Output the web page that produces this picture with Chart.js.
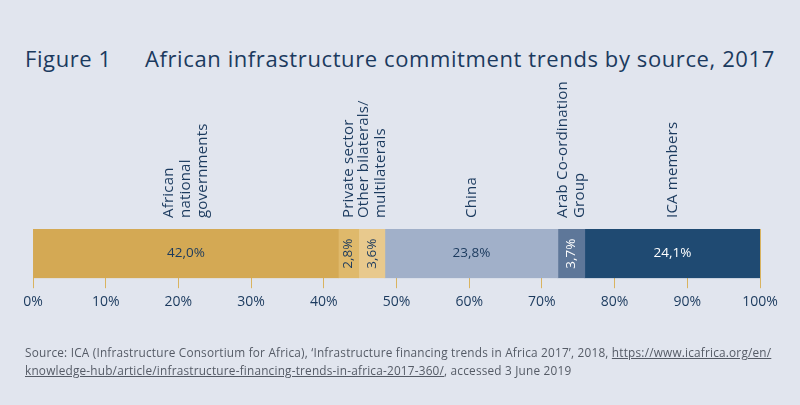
<!DOCTYPE html>
<html>
<head>
<meta charset="utf-8">
<script src="https://cdn.jsdelivr.net/npm/chart.js@4/dist/chart.umd.min.js"></script>
<style>
  html, body { margin: 0; padding: 0; }
  body { width: 800px; height: 405px; background: #e1e5ee; position: relative; overflow: hidden; font-family: 'Open Sans', sans-serif; }
  #title { position: absolute; left: 25px; top: 43px; font-size: 22px; letter-spacing: 0.6px; color: #1b3a5e; white-space: nowrap; }
  #title .fig { display: inline-block; width: 120px; }
  #chart { position: absolute; left: 0; top: 0; }
  #source { position: absolute; left: 25px; top: 343px; width: 770px; font-size: 11.8px; letter-spacing: 0.2px; line-height: 18px; color: #555b66; white-space: nowrap; }
  #source u { color: #555b66; }
</style>
</head>
<body>
<div id="title"><span class="fig">Figure 1</span>African infrastructure commitment trends by source, 2017</div>
<canvas id="chart" width="800" height="405"></canvas>
<div id="source">Source: ICA (Infrastructure Consortium for Africa), ‘Infrastructure financing trends in Africa 2017’, 2018, <u>https://www.icafrica.org/en/<br>knowledge-hub/article/infrastructure-financing-trends-in-africa-2017-360/</u>, accessed 3 June 2019</div>
<script>
const sources = [
  ['African', 'national', 'governments'],
  ['Private sector'],
  ['Other bilaterals/', 'multilaterals'],
  ['China'],
  ['Arab Co-ordination', 'Group'],
  ['ICA members']
];
const shares = [42.0, 2.8, 3.6, 23.8, 3.7, 24.1];
const shareLabels = ['42,0%', '2,8%', '3,6%', '23,8%', '3,7%', '24,1%'];
const colors = ['#d4a954', '#dfb96b', '#e8c98d', '#a1b0c9', '#5e7799', '#1f4a72'];
const labelColors = ['#1b3a5e', '#1b3a5e', '#1b3a5e', '#1b3a5e', '#ffffff', '#ffffff'];
const xTicks = [0, 10, 20, 30, 40, 50, 60, 70, 80, 90, 100];

const navy = '#1b3a5e';
const font = "'Open Sans', sans-serif";

// segment values and source names drawn on and above the bar
const barTextPlugin = {
  id: 'barText',
  afterDatasetsDraw(chart) {
    const { ctx } = chart;
    chart.data.datasets.forEach((ds, i) => {
      const bar = chart.getDatasetMeta(i).data[0];
      const cx = (bar.x + bar.base) / 2;
      const w = Math.abs(bar.x - bar.base);

      ctx.save();
      ctx.fillStyle = labelColors[i];
      ctx.font = '13.5px ' + font;
      ctx.textAlign = 'center';
      ctx.textBaseline = 'middle';
      if (w > 40) {
        ctx.fillText(shareLabels[i], cx, bar.y);
      } else {
        ctx.translate(cx, bar.y);
        ctx.rotate(-Math.PI / 2);
        ctx.fillText(shareLabels[i], 0, 0);
      }
      ctx.restore();

      const lines = sources[i];
      const top = chart.chartArea.top;
      ctx.save();
      ctx.fillStyle = navy;
      ctx.font = '15px ' + font;
      ctx.letterSpacing = '0.2px';
      ctx.textAlign = 'left';
      ctx.textBaseline = 'middle';
      ctx.translate(cx, top - 11);
      ctx.rotate(-Math.PI / 2);
      lines.forEach((line, k) => {
        ctx.fillText(line, 0, (k - (lines.length - 1) / 2) * 17);
      });
      ctx.restore();
    });
  }
};

new Chart(document.getElementById('chart'), {
  type: 'bar',
  data: {
    labels: ['2017'],
    datasets: shares.map((v, i) => ({
      label: sources[i].join(' '),
      data: [v],
      backgroundColor: colors[i],
      borderWidth: 0,
      barPercentage: 1,
      categoryPercentage: 1
    }))
  },
  options: {
    indexAxis: 'y',
    responsive: false,
    animation: false,
    layout: { padding: { left: 33, right: 40, top: 229, bottom: 90 } },
    plugins: {
      legend: { display: false },
      tooltip: { enabled: false }
    },
    scales: {
      x: {
        stacked: true,
        min: 0,
        max: 100,
        afterBuildTicks: (axis) => { axis.ticks = xTicks.map(v => ({ value: v })); },
        grid: { color: '#d9b35f', lineWidth: 1, tickLength: 10, drawOnChartArea: true },
        border: { display: false },
        ticks: {
          color: navy,
          font: { family: font, size: 14 },
          padding: 5,
          maxRotation: 0,
          callback: (v) => v + '%'
        }
      },
      y: {
        stacked: true,
        display: false
      }
    }
  },
  plugins: [barTextPlugin]
});
</script>
</body>
</html>
